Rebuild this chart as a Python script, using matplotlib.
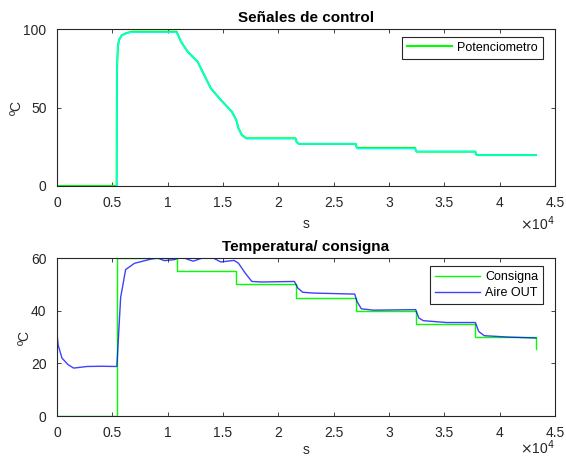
import matplotlib
matplotlib.use('Agg')
import matplotlib.pyplot as plt

# señales de control (potenciometro)
t_pot = [0, 5390, 5420, 5450, 5500, 5600, 5850, 6300, 6800, 10800, 11200, 11800, 12700,
         13900, 14800, 15800, 16200, 16400, 16700, 17100, 21550, 21650, 21850, 27000,
         27050, 27150, 32360, 32420, 32500, 37800, 37850, 37950, 43270]
pot = [0, 0, 72, 80, 88.7, 93, 96, 97.5, 98.3, 98.3, 92, 85.6, 79.2,
       62.2, 54.8, 47.3, 42, 36.7, 32.5, 30.4, 30.4, 28, 26.8, 26.8,
       25, 24.2, 24.2, 22.5, 21.9, 21.9, 20.2, 19.7, 19.7]
# segunda traza (cian) casi igual
t_pot2 = t_pot[1:]
pot2 = [0, 72, 80, 88.7, 93, 96, 97.5, 98.0, 98.0, 92, 85.6, 79.2,
        62.2, 54.8, 47.3, 42, 36.7, 32.5, 30.2, 30.2, 28, 26.8, 26.8,
        25, 23.8, 23.8, 22.5, 21.9, 21.9, 20.2, 19.7, 19.7]

# consigna
t_cons = [0, 5400, 5400, 10800, 10800, 16200, 16200, 21600, 21600, 27000, 27000,
          32400, 32400, 37800, 37800, 43270, 43270]
cons = [0, 0, 60, 60, 55, 55, 50, 50, 45, 45, 40, 40, 35, 35, 30, 30, 25.4]

# aire OUT
t_aire = [0, 100, 450, 1000, 1500, 2700, 4000, 5400, 5450, 5750, 6200, 7000, 8500,
          9100, 9700, 10600, 11200, 12300, 13000, 13800, 14800, 16000, 16400, 17000,
          17600, 18500, 21450, 21760, 22200, 23100, 26900, 27100, 27500, 28600,
          32400, 32700, 33100, 35200, 37800, 38100, 38600, 40700, 43270]
aire = [31.5, 27, 22, 19.5, 18.2, 18.8, 18.9, 18.8, 22, 45, 55.6, 58, 59.6,
        60, 59, 59.4, 60.4, 58.8, 59.8, 60.7, 58.5, 59.1, 58, 54.3,
        51.1, 50.9, 51.1, 48.6, 47, 46.7, 46.3, 43.5, 40.7, 40.2,
        40.4, 37.2, 36.2, 35.5, 35.5, 32.1, 30.5, 30, 29.6]

plt.rcParams['font.family'] = ['Liberation Sans', 'DejaVu Sans']
gris = '#262626'

fig = plt.figure(figsize=(5.66, 4.57), dpi=100)
ax1 = fig.add_axes([0.1007, 0.593, 0.880, 0.3435])
ax2 = fig.add_axes([0.1007, 0.0897, 0.880, 0.3457])

ax1.plot(t_pot, pot, color='#00ff00', lw=1.5, label='Potenciometro')
ax1.plot(t_pot2, pot2, color='#00ffff', lw=1.0)
ax1.set_ylim(0, 100)
ax1.set_yticks([0, 50, 100])
ax1.set_title('Señales de control', fontsize=11, fontweight='bold', pad=5)

ax2.plot(t_cons, cons, color='#00ff00', lw=1.0, label='Consigna')
ax2.plot(t_aire, aire, color='#0000ff', lw=1.0, alpha=0.75, label='Aire OUT')
ax2.set_ylim(0, 60)
ax2.set_yticks([0, 20, 40, 60])
ax2.set_title('Temperatura/ consigna', fontsize=11, fontweight='bold', pad=5)

xt = [0, 5000, 10000, 15000, 20000, 25000, 30000, 35000, 40000, 45000]
xl = ['0', '0.5', '1', '1.5', '2', '2.5', '3', '3.5', '4', '4.5']
for ax, yoff, lp in ((ax1, -0.242, 5), (ax2, -0.2, 2)):
    ax.set_xlim(0, 45000)
    ax.set_xticks(xt)
    ax.set_xticklabels(xl)
    ax.tick_params(direction='in', top=True, right=True, labelsize=10,
                   colors=gris, length=3, width=0.6, pad=7.5)
    for s in ax.spines.values():
        s.set_color(gris)
        s.set_linewidth(0.8)
    ax.set_xlabel('s', fontsize=10, color=gris, labelpad=lp)
    ax.set_ylabel('ºC', fontsize=10, color=gris, labelpad=-0.5)
    ax.text(1.0, yoff, r'$\times$10$^4$', transform=ax.transAxes,
            ha='right', va='center', fontsize=10, color=gris)
    leg = ax.legend(loc='upper right', bbox_to_anchor=(0.976, 0.95), borderaxespad=0,
                    fontsize=9, fancybox=False, edgecolor=gris, framealpha=1,
                    handlelength=3.6, handletextpad=0.4, borderpad=0.4,
                    labelspacing=0.35)
    leg.get_frame().set_linewidth(0.8)

fig.savefig('out.png', dpi=100)
